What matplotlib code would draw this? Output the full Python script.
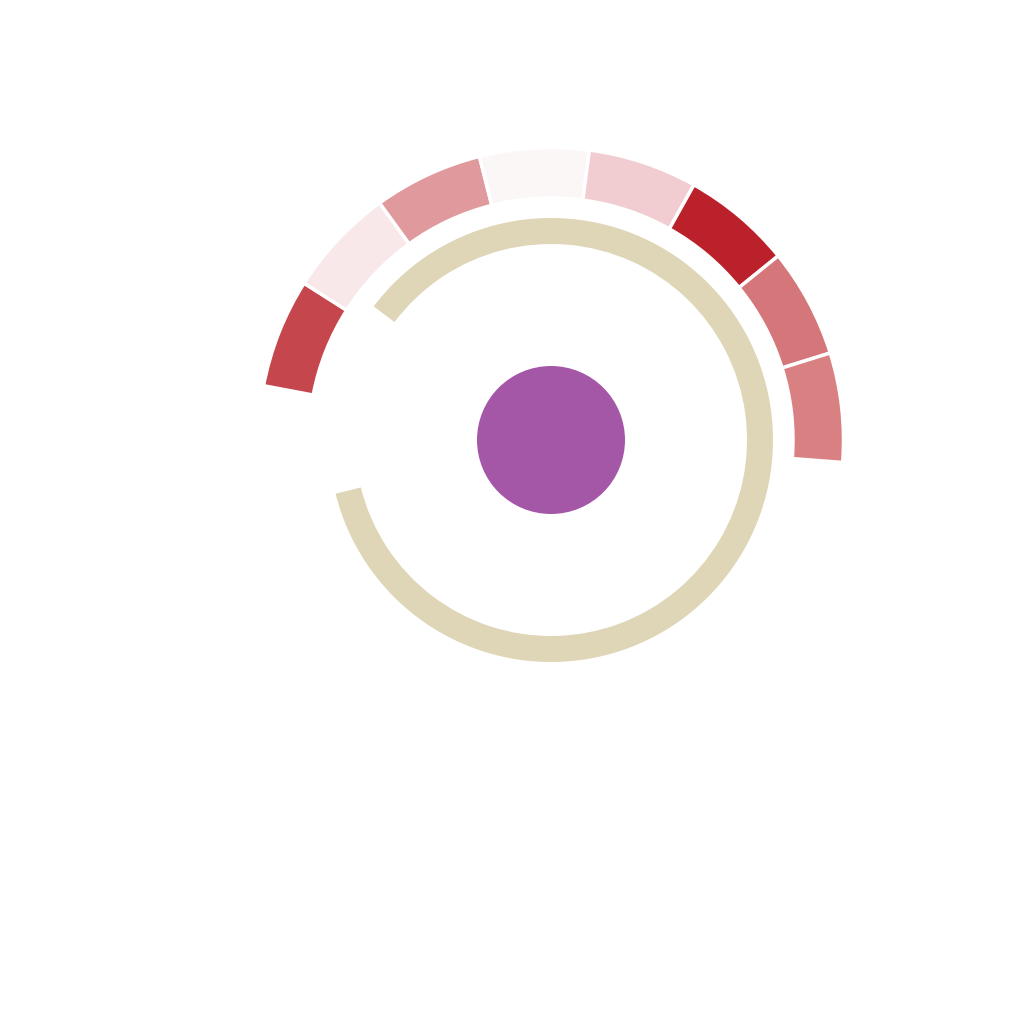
import matplotlib
matplotlib.use("Agg")
import matplotlib.pyplot as plt
from matplotlib.patches import Wedge, Circle

# Data
segment_colors = ["#c5474d", "#f8e8ea", "#e09a9e", "#fcf7f7",
                  "#f1cdd1", "#bb212a", "#d5767a", "#d98083"]
segment_sizes = [1, 1, 1, 1, 1, 1, 1, 1]
arc_start_deg = 169.3
arc_end_deg = -4.4
ring_start_deg = 194.0
ring_end_deg = 503.0
ring_color = "#dfd6b7"
center_color = "#a557a7"

fig = plt.figure(figsize=(10.24, 10.24), dpi=100)
ax = fig.add_axes([0, 0, 1, 1])
ax.set_xlim(0, 1024)
ax.set_ylim(0, 1024)
ax.set_aspect("equal")
ax.axis("off")

cx, cy = 551, 1024 - 440

# outer segments (clockwise from left)
total = sum(segment_sizes)
span = arc_start_deg - arc_end_deg
a = arc_start_deg
for size, col in zip(segment_sizes, segment_colors):
    b = a - span * size / total
    ax.add_patch(Wedge((cx, cy), 292.5, b, a, width=50.5, facecolor=col,
                       edgecolor="white", linewidth=2.5))
    a = b

# ring
ax.add_patch(Wedge((cx, cy), 222, ring_start_deg, ring_end_deg, width=26,
                   facecolor=ring_color, edgecolor="none"))

# center
ax.add_patch(Circle((cx, cy), 74, facecolor=center_color, edgecolor="none"))

fig.savefig("out.png", dpi=100, facecolor="white")
